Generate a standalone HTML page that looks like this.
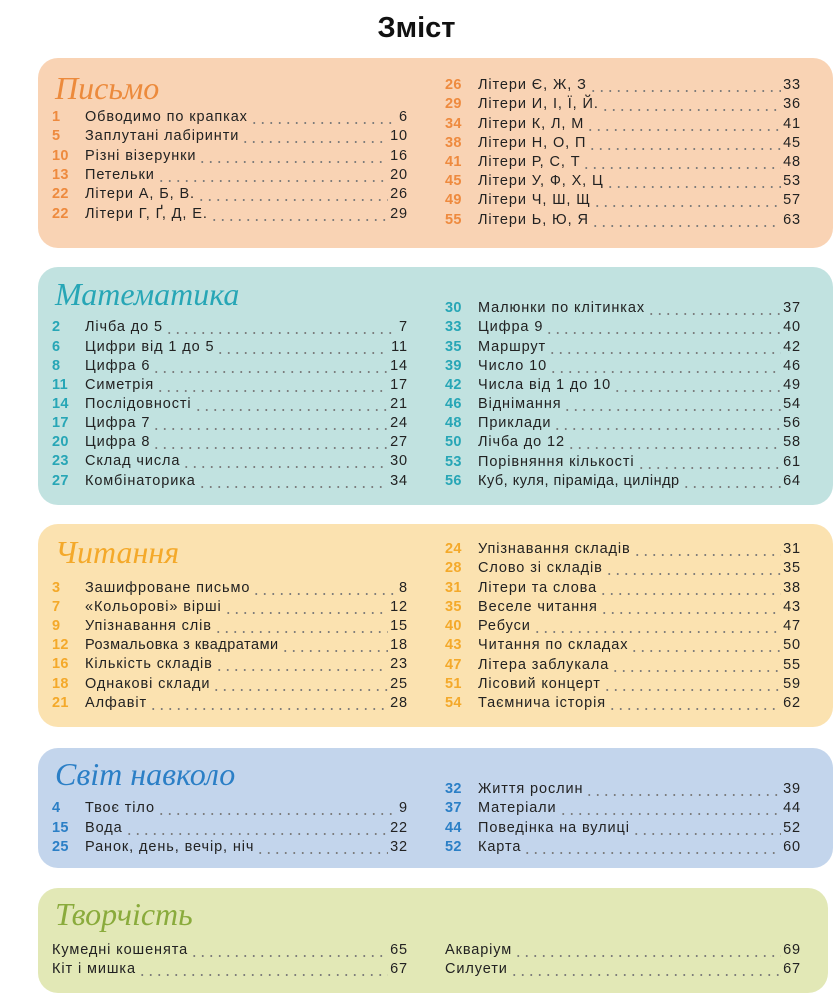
<!DOCTYPE html>
<html><head><meta charset="utf-8"><style>
body{margin:0;width:833px;height:1000px;background:#fff;position:relative;overflow:hidden;font-family:"Liberation Sans","DejaVu Sans",sans-serif;}
h1{position:absolute;top:12px;left:0;width:833px;text-align:center;margin:0;font-size:29px;font-weight:bold;color:#111;}
.box{position:absolute;left:38px;width:795px;border-radius:20px;}
.hd{position:absolute;left:55px;font-family:"Liberation Serif",serif;font-style:italic;font-size:32px;}
.r{position:absolute;height:20px;line-height:20px;width:356px;display:flex;font-size:14.5px;color:#222;letter-spacing:0.9px;}
.r b{width:33px;flex:none;font-weight:bold;letter-spacing:0.3px;}
.r i{flex:1;margin:0 2px;background-image:radial-gradient(circle,#777 0.8px,transparent 1.2px);background-size:8.5px 4px;background-repeat:repeat-x;background-position:0 14px;}
.L{left:52px}.R{left:445px}
.o b{color:#ee8a3e}.t b{color:#27a6b6}.y b{color:#f4a92a}.bl b{color:#2b7fc6}
</style></head><body>
<h1>Зміст</h1>

<div class="box" style="top:58px;height:190px;background:#f9d3b4"></div>
<div class="hd" style="top:70px;color:#ec8a3c">Письмо</div>
<div class="r L o" style="top:107px"><b>1</b><span>Обводимо по крапках</span><i></i><span>6</span></div>
<div class="r L o" style="top:126px"><b>5</b><span>Заплутані лабіринти</span><i></i><span>10</span></div>
<div class="r L o" style="top:146px"><b>10</b><span>Різні візерунки</span><i></i><span>16</span></div>
<div class="r L o" style="top:165px"><b>13</b><span>Петельки</span><i></i><span>20</span></div>
<div class="r L o" style="top:184px"><b>22</b><span>Літери А, Б, В.</span><i></i><span>26</span></div>
<div class="r L o" style="top:204px"><b>22</b><span>Літери Г, Ґ, Д, Е.</span><i></i><span>29</span></div>
<div class="r R o" style="top:75px"><b>26</b><span>Літери Є, Ж, З</span><i></i><span>33</span></div>
<div class="r R o" style="top:94px"><b>29</b><span>Літери И, І, Ї, Й.</span><i></i><span>36</span></div>
<div class="r R o" style="top:114px"><b>34</b><span>Літери К, Л, М</span><i></i><span>41</span></div>
<div class="r R o" style="top:133px"><b>38</b><span>Літери Н, О, П</span><i></i><span>45</span></div>
<div class="r R o" style="top:152px"><b>41</b><span>Літери Р, С, Т</span><i></i><span>48</span></div>
<div class="r R o" style="top:171px"><b>45</b><span>Літери У, Ф, Х, Ц</span><i></i><span>53</span></div>
<div class="r R o" style="top:190px"><b>49</b><span>Літери Ч, Ш, Щ</span><i></i><span>57</span></div>
<div class="r R o" style="top:210px"><b>55</b><span>Літери Ь, Ю, Я</span><i></i><span>63</span></div>

<div class="box" style="top:267px;height:238px;background:#c1e2e0"></div>
<div class="hd" style="top:276px;color:#27a6b6">Математика</div>
<div class="r L t" style="top:317px"><b>2</b><span>Лічба до 5</span><i></i><span>7</span></div>
<div class="r L t" style="top:337px"><b>6</b><span>Цифри від 1 до 5</span><i></i><span>11</span></div>
<div class="r L t" style="top:356px"><b>8</b><span>Цифра 6</span><i></i><span>14</span></div>
<div class="r L t" style="top:375px"><b>11</b><span>Симетрія</span><i></i><span>17</span></div>
<div class="r L t" style="top:394px"><b>14</b><span>Послідовності</span><i></i><span>21</span></div>
<div class="r L t" style="top:413px"><b>17</b><span>Цифра 7</span><i></i><span>24</span></div>
<div class="r L t" style="top:432px"><b>20</b><span>Цифра 8</span><i></i><span>27</span></div>
<div class="r L t" style="top:451px"><b>23</b><span>Склад числа</span><i></i><span>30</span></div>
<div class="r L t" style="top:471px"><b>27</b><span>Комбінаторика</span><i></i><span>34</span></div>
<div class="r R t" style="top:298px"><b>30</b><span>Малюнки по клітинках</span><i></i><span>37</span></div>
<div class="r R t" style="top:317px"><b>33</b><span>Цифра 9</span><i></i><span>40</span></div>
<div class="r R t" style="top:337px"><b>35</b><span>Маршрут</span><i></i><span>42</span></div>
<div class="r R t" style="top:356px"><b>39</b><span>Число 10</span><i></i><span>46</span></div>
<div class="r R t" style="top:375px"><b>42</b><span>Числа від 1 до 10</span><i></i><span>49</span></div>
<div class="r R t" style="top:394px"><b>46</b><span>Віднімання</span><i></i><span>54</span></div>
<div class="r R t" style="top:413px"><b>48</b><span>Приклади</span><i></i><span>56</span></div>
<div class="r R t" style="top:432px"><b>50</b><span>Лічба до 12</span><i></i><span>58</span></div>
<div class="r R t" style="top:452px"><b>53</b><span>Порівняння кількості</span><i></i><span>61</span></div>
<div class="r R t" style="top:471px"><b>56</b><span style="letter-spacing:0.5px">Куб, куля, піраміда, циліндр</span><i></i><span>64</span></div>

<div class="box" style="top:524px;height:203px;background:#fbe2b0"></div>
<div class="hd" style="top:534px;color:#f4a92a">Читання</div>
<div class="r L y" style="top:578px"><b>3</b><span>Зашифроване письмо</span><i></i><span>8</span></div>
<div class="r L y" style="top:597px"><b>7</b><span>«Кольорові» вірші</span><i></i><span>12</span></div>
<div class="r L y" style="top:616px"><b>9</b><span>Упізнавання слів</span><i></i><span>15</span></div>
<div class="r L y" style="top:635px"><b>12</b><span style="letter-spacing:0.5px">Розмальовка з квадратами</span><i></i><span>18</span></div>
<div class="r L y" style="top:654px"><b>16</b><span>Кількість складів</span><i></i><span>23</span></div>
<div class="r L y" style="top:674px"><b>18</b><span>Однакові склади</span><i></i><span>25</span></div>
<div class="r L y" style="top:693px"><b>21</b><span>Алфавіт</span><i></i><span>28</span></div>
<div class="r R y" style="top:539px"><b>24</b><span>Упізнавання складів</span><i></i><span>31</span></div>
<div class="r R y" style="top:558px"><b>28</b><span>Слово зі складів</span><i></i><span>35</span></div>
<div class="r R y" style="top:578px"><b>31</b><span>Літери та слова</span><i></i><span>38</span></div>
<div class="r R y" style="top:597px"><b>35</b><span>Веселе читання</span><i></i><span>43</span></div>
<div class="r R y" style="top:616px"><b>40</b><span>Ребуси</span><i></i><span>47</span></div>
<div class="r R y" style="top:635px"><b>43</b><span>Читання по складах</span><i></i><span>50</span></div>
<div class="r R y" style="top:655px"><b>47</b><span>Літера заблукала</span><i></i><span>55</span></div>
<div class="r R y" style="top:674px"><b>51</b><span>Лісовий концерт</span><i></i><span>59</span></div>
<div class="r R y" style="top:693px"><b>54</b><span>Таємнича історія</span><i></i><span>62</span></div>

<div class="box" style="top:748px;height:120px;background:#c3d5ec"></div>
<div class="hd" style="top:756px;color:#2b7fc6">Світ навколо</div>
<div class="r L bl" style="top:798px"><b>4</b><span>Твоє тіло</span><i></i><span>9</span></div>
<div class="r L bl" style="top:818px"><b>15</b><span>Вода</span><i></i><span>22</span></div>
<div class="r L bl" style="top:837px"><b>25</b><span>Ранок, день, вечір, ніч</span><i></i><span>32</span></div>
<div class="r R bl" style="top:779px"><b>32</b><span>Життя рослин</span><i></i><span>39</span></div>
<div class="r R bl" style="top:798px"><b>37</b><span>Матеріали</span><i></i><span>44</span></div>
<div class="r R bl" style="top:818px"><b>44</b><span>Поведінка на вулиці</span><i></i><span>52</span></div>
<div class="r R bl" style="top:837px"><b>52</b><span>Карта</span><i></i><span>60</span></div>

<div class="box" style="top:888px;height:105px;background:#e2e8b6;width:790px"></div>
<div class="hd" style="top:896px;color:#8aab3c">Творчість</div>
<div class="r L" style="top:940px"><span>Кумедні кошенята</span><i></i><span>65</span></div>
<div class="r L" style="top:959px"><span>Кіт і мишка</span><i></i><span>67</span></div>
<div class="r R" style="top:940px"><span>Акваріум</span><i></i><span>69</span></div>
<div class="r R" style="top:959px"><span>Силуети</span><i></i><span>67</span></div>
</body></html>
